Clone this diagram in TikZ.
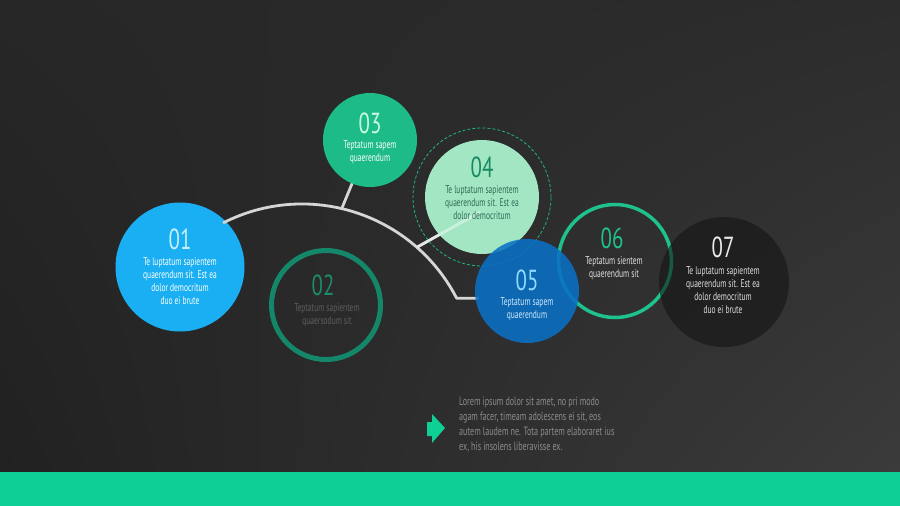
\documentclass[tikz,border=0pt]{standalone}
\usepackage{fontspec}
\setmainfont[FakeStretch=0.72]{PT Sans}
\newfontfamily\narrowtext[FakeStretch=0.67]{PT Sans}
\usetikzlibrary{calc,shadings}

\definecolor{bgA}{HTML}{272727}
\definecolor{bgB}{HTML}{2C2C2C}
\definecolor{bgC}{HTML}{212121}
\definecolor{bgD}{HTML}{3B3B3B}
\definecolor{band}{HTML}{0ECF96}
\definecolor{wire}{HTML}{D6D6D6}
\definecolor{blueA}{HTML}{19AFF2}
\definecolor{numA}{HTML}{C8EFFF}
\definecolor{tealRing}{HTML}{14876A}
\definecolor{tealNum}{HTML}{1C8C6C}
\definecolor{dimText}{HTML}{5E5E5E}
\definecolor{greenB}{HTML}{1CBB88}
\definecolor{numB}{HTML}{C9F9E2}
\definecolor{mint}{HTML}{A2E6C3}
\definecolor{mintNum}{HTML}{178A62}
\definecolor{mintText}{HTML}{2F6C55}
\definecolor{dashRing}{HTML}{22B683}
\definecolor{blueB}{HTML}{0A70C4}
\definecolor{numC}{HTML}{8DDCFF}
\definecolor{bodyC}{HTML}{CDE9FF}
\definecolor{greenRing}{HTML}{1EC28E}
\definecolor{paraText}{HTML}{8C8C8C}

\tikzset{
  disk/.style={circle, inner sep=0pt, outer sep=0pt},
  ring/.style={circle, inner sep=0pt, outer sep=0pt, draw},
  num/.style={inner sep=0pt, font=\fontsize{29}{29}\selectfont},
  body/.style={inner sep=0pt, align=center, font=\narrowtext\fontsize{11.2}{13}\selectfont},
  wireline/.style={draw=wire, line width=2.8pt},
}

\begin{document}
\begin{tikzpicture}[x=1pt, y=1pt]
  % canvas and bottom band
  \useasboundingbox (0,0) rectangle (900,-506);
  \shade[upper left=bgA, upper right=bgB, lower left=bgC, lower right=bgD]
    (0,0) rectangle (900,-472);
  \fill[band] (0,-472) rectangle (900,-506);

  % circle positions
  \coordinate (p01) at (180,-267);
  \coordinate (p02) at (326,-305);
  \coordinate (p03) at (370,-140);
  \coordinate (p04) at (482,-197);
  \coordinate (p05) at (527,-291);
  \coordinate (p06) at (615,-261);
  \coordinate (p07) at (724,-282);
  \coordinate (hub) at (302,-378);

  % circles that sit behind the wiring
  \node[disk, fill=blueA, minimum size=129pt] (c01) at (p01) {};

  % wiring: main arc with its two branches
  \path (hub) ++(117:174) coordinate (arcS);
  \path (hub) ++(27.3:174) coordinate (arcE);
  \path (hub) ++(76.8:174) coordinate (b3);
  \path (hub) ++(48.7:174) coordinate (b4);
  \coordinate (k4) at (480,-212);
  \draw[wireline, line join=round] (arcS) arc[start angle=117, end angle=27.3, radius=174pt]
        -- ($(arcE)+(22,0)$) coordinate (w5);
  \draw[wireline] (b3) -- (p03);
  \draw[wireline] (b4) -- (k4);

  % remaining circles
  \node[ring, draw=tealRing, line width=5pt, minimum size=109pt] (c02) at (p02) {};
  \node[disk, fill=greenB, minimum size=94pt] (c03) at (p03) {};
  \node[ring, draw=dashRing, line width=0.8pt, dash pattern=on 3pt off 2pt,
        minimum size=138pt] (d04) at (p04) {};
  \node[disk, fill=mint, minimum size=114pt] (c04) at (p04) {};
  \draw[wireline, draw=white, opacity=0.45] (b4) -- (k4);
  \node[ring, draw=greenRing, line width=3.5pt, minimum size=113pt] (c06) at (p06) {};
  \node[disk, fill=black!92, fill opacity=0.6, minimum size=130pt] (c07) at (p07) {};
  \node[disk, fill=blueB, fill opacity=0.88, minimum size=104pt] (c05) at (p05) {};

  % labels
  \node[num, text=numA] (n01) at (180,-239) {01};
  \node[body, text=white] (t01) at (180,-281)
    {Te luptatum sapientem\\quaerendum sit. Est ea\\dolor democritum\\duo ei brute};

  \node[num, text=tealNum] (n02) at (323,-285) {02};
  \node[body, text=dimText] (t02) at (327,-315)
    {Teptatum sapientem\\quaersodum sit};

  \node[num, text=numB] (n03) at (370,-123) {03};
  \node[body, text=white] (t03) at (370,-152)
    {Teptatum sapem\\quaerendum};

  \node[num, text=mintNum] (n04) at (482,-167) {04};
  \node[body, text=mintText] (t04) at (482,-203)
    {Te luptatum sapientem\\quaerendum sit. Est ea\\dolor democritum};

  \node[num, text=numC] (n05) at (527,-280) {05};
  \node[body, text=bodyC] (t05) at (527,-309)
    {Teptatum sapem\\quaerendum};

  \node[num, text=greenRing] (n06) at (612,-238) {06};
  \node[body, text=white!88!black] (t06) at (614,-268)
    {Teptatum sientem\\quaerendum sit};

  \node[num, text=white!92!black] (n07) at (723,-247) {07};
  \node[body, text=white!87!black] (t07) at (723,-290)
    {Te luptatum sapientem\\quaerendum sit. Est ea\\dolor democritum\\duo ei brute};

  % note with arrow marker
  \fill[band] (427,-422) -- (432,-422) -- (432,-414) -- (445,-428)
    -- (432,-443) -- (432,-436) -- (427,-436) -- cycle;
  \node[inner sep=0pt, anchor=north west, align=left, text=paraText,
        font=\narrowtext\fontsize{12}{15}\selectfont] (note) at (459,-397)
    {Lorem ipsum dolor sit amet, no pri modo\\agam facer, timeam adolescens ei sit, eos\\autem laudem ne. Tota partem elaboraret ius\\ex, his insolens liberavisse ex.};
\end{tikzpicture}
\end{document}
